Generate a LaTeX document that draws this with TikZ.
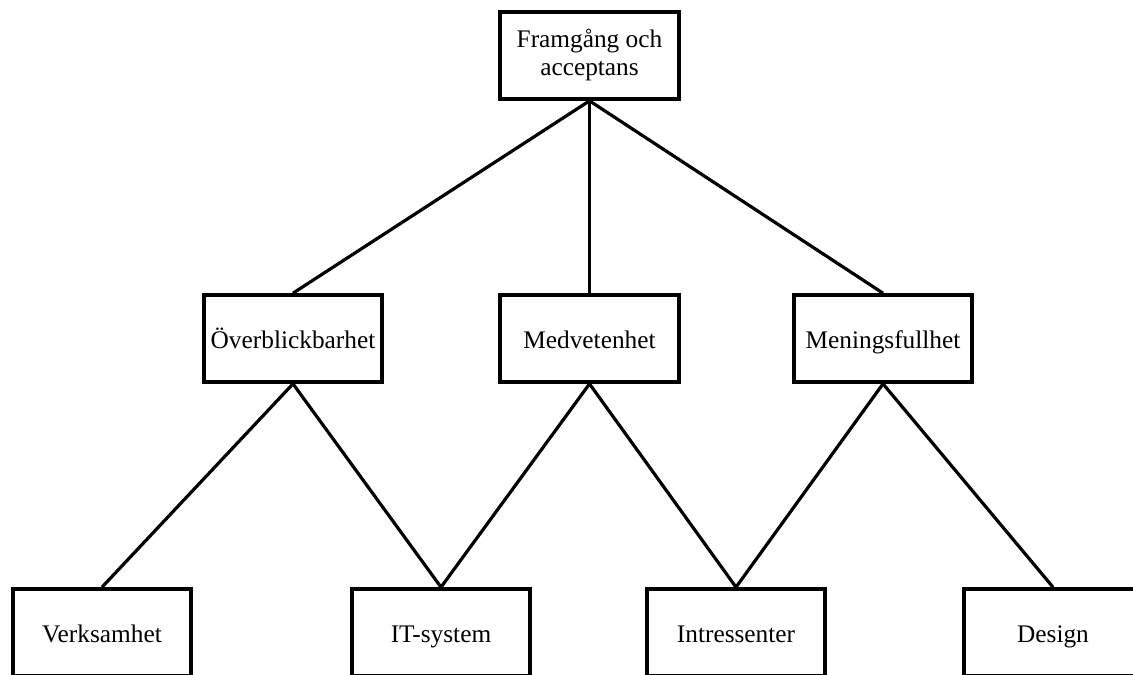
\documentclass[tikz,border=0pt]{standalone}
\usepackage{fontspec}
\setmainfont{Liberation Serif}
\usepackage{tikz}
\usetikzlibrary{positioning}

\begin{document}
\begin{tikzpicture}[x=0.75pt,y=-0.75pt,
    faktor/.style={draw,line width=3pt,minimum width=134pt,minimum height=65pt,
        inner sep=0pt,align=center,font=\fontsize{19}{21}\selectfont},
    enrad/.style={faktor,text height=16pt,text depth=1pt},
    kant/.style={line width=2.4pt}]
            \useasboundingbox (0,0) rectangle (1133,675);
            \node[faktor] (F_0) at (589.5,55.5) {Framgång och\\acceptans};
            \node[enrad] (M_1) at (293,338.5) {Överblickbarhet};
            \node[enrad] (M_2) at (589.5,338.5) {Medvetenhet};
            \node[enrad] (M_3) at (883,338.5) {Meningsfullhet};
            \node[enrad] (B_1) at (102,632.5) {Verksamhet};
            \node[enrad] (B_2) at (441,632.5) {IT-system};
            \node[enrad] (B_3) at (736,632.5) {Intressenter};
            \node[enrad] (B_4) at (1053,632.5) {Design};
            \path[kant]
                (F_0.south) edge (M_1.north)
                            edge (M_2.north)
                            edge (M_3.north)
                (M_1.south) edge (B_1.north)
                            edge (B_2.north)
                (M_2.south) edge (B_2.north)
                            edge (B_3.north)
                (M_3.south) edge (B_3.north)
                            edge (B_4.north);
        \end{tikzpicture}
\end{document}
